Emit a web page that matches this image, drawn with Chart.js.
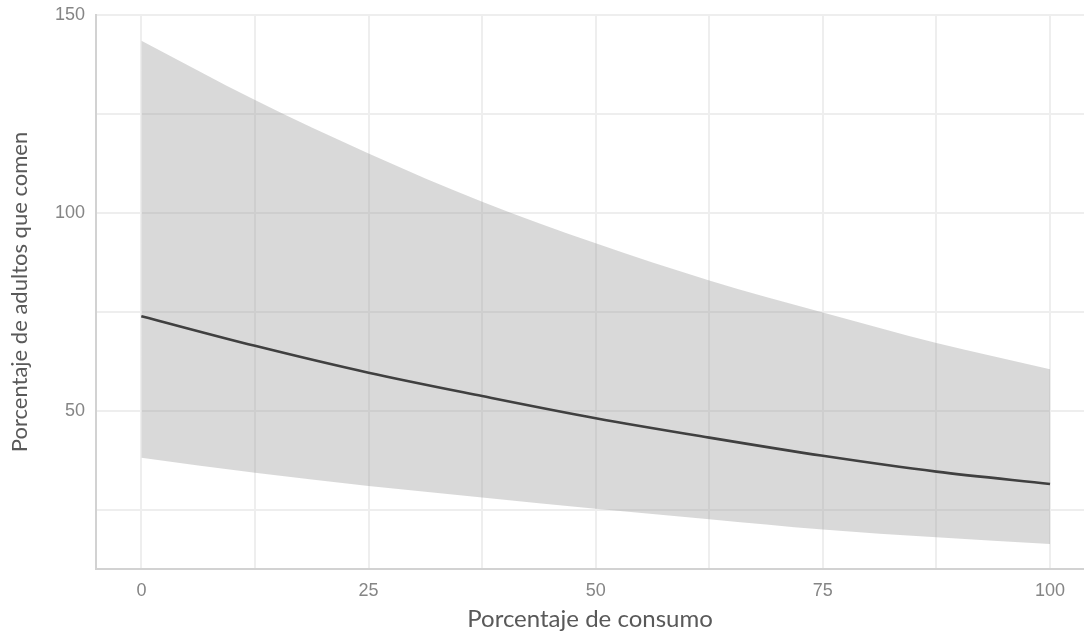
<!DOCTYPE html>
<html>
<head>
<meta charset="utf-8">
<script src="https://cdn.jsdelivr.net/npm/chart.js@4.4.1/dist/chart.umd.min.js"></script>
<style>
  html, body { margin: 0; padding: 0; background: #ffffff; }
  #wrap { width: 1084px; height: 635px; position: relative; }
</style>
</head>
<body>
<div id="wrap"><canvas id="c" width="1084" height="635"></canvas></div>
<script>
// Data
const consumo = [0, 12.5, 25, 37.5, 50, 62.5, 75, 87.5, 100];
const estimado = [73.9, 66.4, 59.6, 53.7, 48.1, 43.2, 38.6, 34.6, 31.5];
const limiteSuperior = [143.5, 128.5, 115.0, 102.8, 92.3, 82.9, 74.8, 67.1, 60.5];
const limiteInferior = [38.1, 34.3, 31.0, 28.1, 25.2, 22.6, 20.0, 18.0, 16.3];

const xTicks = [0, 12.5, 25, 37.5, 50, 62.5, 75, 87.5, 100];
const xTickLabels = ['0', '25', '50', '75', '100'];
const yTicks = [25, 50, 75, 100, 125, 150];
const yTickLabels = ['50', '100', '150'];

const xTitle = 'Porcentaje de consumo';
const yTitle = 'Porcentaje de adultos que comen';

const toPoints = (xs, ys) => xs.map((x, i) => ({ x: x, y: ys[i] }));

const gridColor = '#eeeeee';
const tickColor = '#858585';
const titleColor = '#595959';

new Chart(document.getElementById('c'), {
  type: 'line',
  data: {
    datasets: [
      {
        label: 'inferior',
        data: toPoints(consumo, limiteInferior),
        borderWidth: 0,
        pointRadius: 0,
        fill: false,
        cubicInterpolationMode: 'monotone'
      },
      {
        label: 'superior',
        data: toPoints(consumo, limiteSuperior),
        borderWidth: 0,
        pointRadius: 0,
        backgroundColor: 'rgba(153,153,153,0.37)',
        fill: '-1',
        cubicInterpolationMode: 'monotone'
      },
      {
        label: 'estimado',
        data: toPoints(consumo, estimado),
        borderColor: '#0d0d0d',
        borderWidth: 2.6,
        pointRadius: 0,
        fill: false,
        cubicInterpolationMode: 'monotone'
      }
    ]
  },
  options: {
    responsive: false,
    animation: false,
    events: [],
    layout: { padding: { top: 15, right: 0, bottom: 0, left: 0 } },
    plugins: {
      legend: { display: false },
      tooltip: { enabled: false }
    },
    scales: {
      x: {
        type: 'linear',
        min: -5,
        max: 103.74,
        afterBuildTicks: (s) => { s.ticks = xTicks.map(v => ({ value: v })); },
        afterFit: (s) => { s.height = 66; s.paddingLeft = 0; s.paddingRight = 0; },
        grid: { color: gridColor, lineWidth: 2, drawTicks: false },
        border: { display: true, color: '#d2d2d2', width: 2 },
        ticks: {
          padding: 11,
          autoSkip: false,
          maxRotation: 0,
          color: tickColor,
          font: { family: 'Liberation Sans', size: 18 },
          callback: (v) => (xTickLabels.includes(String(v)) ? String(v) : '')
        },
        title: {
          display: true,
          text: xTitle,
          color: titleColor,
          font: { family: 'Lato', size: 24 },
          padding: { top: 0, bottom: 1 }
        }
      },
      y: {
        type: 'linear',
        min: 10,
        max: 150,
        afterBuildTicks: (s) => { s.ticks = yTicks.map(v => ({ value: v })); },
        afterFit: (s) => { s.width = 96; s.paddingTop = 0; s.paddingBottom = 0; },
        grid: { color: gridColor, lineWidth: 2, drawTicks: false },
        border: { display: true, color: '#d2d2d2', width: 2 },
        ticks: {
          padding: 11,
          autoSkip: false,
          color: tickColor,
          font: { family: 'Liberation Sans', size: 18 },
          callback: (v) => (yTickLabels.includes(String(v)) ? String(v) : '')
        },
        title: {
          display: true,
          text: yTitle,
          color: titleColor,
          font: { family: 'Lato', size: 22 },
          padding: { top: 7, bottom: 0 }
        }
      }
    }
  }
});
</script>
</body>
</html>
